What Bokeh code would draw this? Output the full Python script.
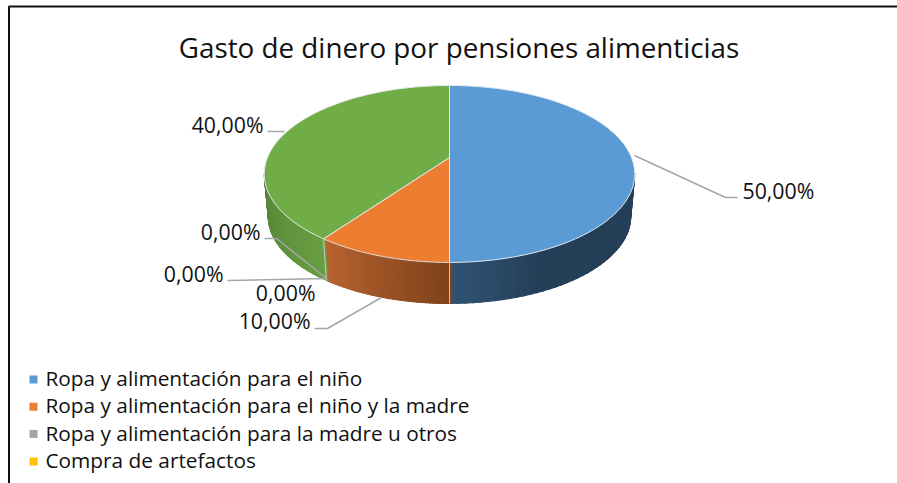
from math import sin, cos, acos, pi
from bokeh.plotting import figure
from bokeh.embed import file_html
from bokeh.resources import INLINE
from bokeh.core.properties import value

title = "Gasto de dinero por pensiones alimenticias"
categories = ["Ropa y alimentación para el niño",
              "Ropa y alimentación para el niño y la madre",
              "Ropa y alimentación para la madre u otros",
              "Compra de artefactos"]
legend_colors = ["#5B9BD5", "#ED7D31", "#A5A5A5", "#FFC000"]
slice_values = [50.0, 10.0, 0.0, 0.0, 0.0, 40.0]
slice_colors = ["#5B9BD5", "#ED7D31", "#A5A5A5", "#FFC000", "#4472C4", "#70AD47"]
slice_labels = ["50,00%", "10,00%", "0,00%", "0,00%", "0,00%", "40,00%"]
side_dark = {"#5B9BD5": ((48, 84, 117), (36, 63, 87)),
             "#ED7D31": ((127, 67, 26), (186, 100, 48)),
             "#70AD47": ((84, 130, 53), (104, 158, 68))}

FONT = "Open Sans"
W, H = 897, 483
p = figure(width=W, height=H, x_range=(0, W), y_range=(H, 0), output_backend="svg",
           toolbar_location=None, min_border=0, margin=(0, 0, 0, 0),
           outline_line_color=None)
p.xaxis.visible = False
p.yaxis.visible = False
p.xgrid.visible = False
p.ygrid.visible = False

CX, K = 449.0, 0.186
TOP = dict(r=182.0, a=85.4, y0=157.0)
BOT = dict(r=178.0, a=83.5, y0=200.4)

def pt(theta, d):
    v, u = cos(theta), sin(theta)
    w = 1 - K * v
    return CX + d["r"] * u / w, d["y0"] + d["a"] * v / w

def data_to_theta(pct):
    return pi - pct / 100 * 2 * pi

TANGENT = acos(K)

def mix(c, t):
    a, b = c
    return "#%02x%02x%02x" % tuple(int(round(a[i] + (b[i] - a[i]) * t)) for i in range(3))

start = 0.0
for val, col in zip(slice_values, slice_colors):
    t0, t1 = data_to_theta(start), data_to_theta(start + val)
    start += val
    if val == 0:
        continue
    lo, hi = max(min(t0, t1), -TANGENT), min(max(t0, t1), TANGENT)
    if lo >= hi:
        continue
    n = 40
    for i in range(n):
        a = lo + (hi - lo) * i / n
        b = lo + (hi - lo) * (i + 1) / n
        f = (i + .5) / n
        if col == "#5B9BD5":
            shade = mix(side_dark[col], min(1, f * 3.2))
        elif col == "#ED7D31":
            shade = mix(side_dark[col], 1 - f)
        else:
            shade = mix(side_dark[col], f)
        xa, ya = pt(a, TOP); xb, yb = pt(b + 0.01, TOP)
        xc, yc = pt(b + 0.01, BOT); xd, yd = pt(a, BOT)
        p.patch([xa, xb, xc, xd], [ya, yb, yc, yd], fill_color=shade, line_color=shade, line_width=1.0)

start = 0.0
for val, col in zip(slice_values, slice_colors):
    t0, t1 = data_to_theta(start), data_to_theta(start + val)
    start += val
    if val == 0:
        continue
    n = 120
    xs, ys = [CX], [TOP["y0"]]
    for i in range(n + 1):
        x, y = pt(t0 + (t1 - t0) * i / n, TOP)
        xs.append(x); ys.append(y)
    p.patch(xs, ys, fill_color=col, line_color="#e4e9ee", line_width=1.0)

for t in (0.0, data_to_theta(60.0)):
    xa, ya = pt(t, TOP); xb, yb = pt(t, BOT)
    p.line([xa, xb], [ya, yb], line_color="#c9c9c9", line_width=1.0)

leaders = [([634, 725, 737], [155, 197, 197]),
           ([264, 276, 326], [238, 238, 278]),
           ([227, 326], [280, 278]),
           ([314, 327, 381], [328, 328, 297]),
           ([267, 284], [131, 131])]
for xs, ys in leaders:
    p.line(xs, ys, line_color="#A6A6A6", line_width=1.5)

label_pos = [(742, 189.5, "left"), (310, 320, "right"), (260, 230.5, "right"),
             (223, 272.5, "right"), (315, 292, "right"), (263, 124, "right")]
for txt, (x, y, al) in zip(slice_labels, label_pos):
    p.text([x], [y], text=[txt], text_font=value(FONT), text_font_size="21.3px",
           text_color="#111111", text_align=al, text_baseline="middle")

p.text([458.5], [46], text=[title], text_font=value(FONT), text_font_size="27.8px",
       text_color="#111111", text_align="center", text_baseline="middle")

for i, (name, col) in enumerate(zip(categories, legend_colors)):
    y = 379 + i * 27.3
    p.scatter([33], [y], marker="square", size=8, fill_color=col, line_color=None)
    p.text([45], [y - 1.5], text=[name], text_font=value(FONT), text_font_size="20.8px",
           text_color="#111111", text_align="left", text_baseline="middle")

p.line([8.5, 8.5, W], [H, 6, 6], line_color="#111111", line_width=2)

open("out.html", "w").write(file_html(p, INLINE))
